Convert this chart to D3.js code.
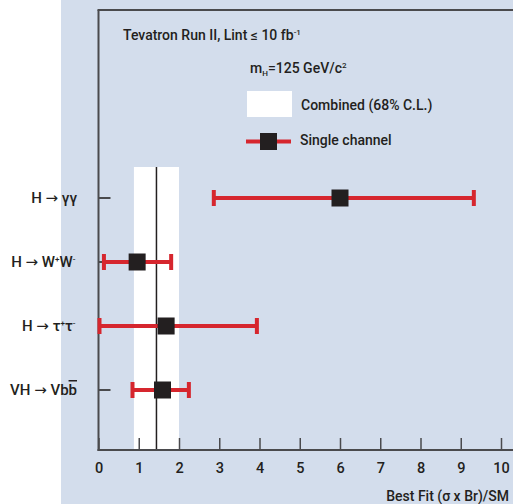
<!DOCTYPE html>
<html><head><meta charset="utf-8">
<script src="https://cdn.jsdelivr.net/npm/d3@7"></script>
<style>
html,body{margin:0;padding:0;background:#fff;}
svg{display:block;}
text{font-family:Roboto,"Liberation Sans",sans-serif;fill:#231f20;font-weight:500;}
.arr{font-family:"DejaVu Sans",sans-serif;font-weight:normal;}
</style></head>
<body>
<svg id="c" width="513" height="504"></svg>
<script>
const channels = ["H → γγ", "H → W⁺W⁻", "H → τ⁺τ⁻", "VH → Vbb̄"];
const bestFit = [6.0, 0.96, 1.68, 1.59];
const errLow = [2.84, 0.11, 0.0, 0.82];
const errHigh = [9.35, 1.83, 3.96, 2.27];
const combinedCentral = 1.44;
const combinedLow = 0.88;
const combinedHigh = 2.0;
const xTicks = [0,1,2,3,4,5,6,7,8,9,10];

const svg = d3.select("#c");
const W = 513, H = 504;
const blue = "#d3ddec", axisCol = "#4a4a4d", red = "#d6262e", mark = "#231f20";

svg.append("rect").attr("x",61).attr("y",0).attr("width",W-61).attr("height",H).attr("fill",blue);

const x = d3.scaleLinear().domain([0,10]).range([98.5,501]);
const y = d3.scalePoint().domain(d3.range(channels.length)).range([198,390]);
const yTop = 10, yBot = 450;

// combined band
svg.append("rect").attr("x",x(combinedLow)).attr("y",167).attr("width",x(combinedHigh)-x(combinedLow)).attr("height",yBot-167).attr("fill","#fff");
svg.append("line").attr("x1",x(combinedCentral)).attr("x2",x(combinedCentral)).attr("y1",167).attr("y2",yBot).attr("stroke",mark).attr("stroke-width",1.5);

// bottom axis with inner ticks
const gx = svg.append("g").attr("transform",`translate(0,${yBot})`)
  .call(d3.axisBottom(x).tickValues(xTicks).tickSizeInner(-12).tickSizeOuter(0).tickPadding(13).tickFormat(d3.format("d")));
gx.select(".domain").remove();
gx.selectAll(".tick line").attr("stroke",axisCol).attr("stroke-width",1.5);
gx.selectAll(".tick text").attr("font-size",14.5).attr("fill","#231f20").attr("font-family","Roboto, sans-serif").attr("font-weight",500);
svg.append("line").attr("x1",x(0)-1).attr("x2",W).attr("y1",yBot).attr("y2",yBot).attr("stroke",axisCol).attr("stroke-width",2);

// frame left & top
svg.append("line").attr("x1",x(0)).attr("x2",x(0)).attr("y1",yTop).attr("y2",yBot+1).attr("stroke",axisCol).attr("stroke-width",2);
svg.append("line").attr("x1",x(0)-1).attr("x2",W).attr("y1",yTop).attr("y2",yTop).attr("stroke",axisCol).attr("stroke-width",2);

// y ticks
svg.append("g").selectAll("line").data(channels).join("line")
  .attr("x1",x(0)).attr("x2",x(0)+12).attr("y1",(d,i)=>y(i)).attr("y2",(d,i)=>y(i))
  .attr("stroke",axisCol).attr("stroke-width",2);

// channel labels
const lab = svg.append("g").selectAll("text").data(channels).join("text")
  .attr("x",77).attr("y",(d,i)=>y(i)+5).attr("text-anchor","end").attr("font-size",15);
lab.each(function(d,i){
  const t = d3.select(this);
  const pre = i===3 ? "VH " : "H ";
  t.append("tspan").text(pre);
  t.append("tspan").attr("class","arr").text("→");
  if(i===0){ t.append("tspan").text(" γγ"); }
  if(i===1){ t.append("tspan").text(" W"); t.append("tspan").attr("font-size",8).attr("dy",-5).text("+");
    t.append("tspan").attr("dy",5).text("W"); t.append("tspan").attr("font-size",8).attr("dy",-5).text("-"); t.append("tspan").attr("dy",5).text("\u200a"); }
  if(i===2){ t.append("tspan").text(" τ"); t.append("tspan").attr("font-size",8).attr("dy",-5).text("+");
    t.append("tspan").attr("dy",5).text("τ"); t.append("tspan").attr("font-size",8).attr("dy",-5).text("-"); t.append("tspan").attr("dy",5).text("\u200a"); }
  if(i===3){ t.append("tspan").text(" Vb"); t.append("tspan").attr("text-decoration","overline").text("b"); }
});

// error bars
const eb = svg.append("g");
eb.selectAll("line.bar").data(channels).join("line").attr("class","bar")
  .attr("x1",(d,i)=>x(errLow[i])).attr("x2",(d,i)=>x(errHigh[i])).attr("y1",(d,i)=>y(i)).attr("y2",(d,i)=>y(i))
  .attr("stroke",red).attr("stroke-width",4);
eb.selectAll("line.capl").data(channels).join("line").attr("class","capl")
  .attr("x1",(d,i)=>x(errLow[i])+1).attr("x2",(d,i)=>x(errLow[i])+1).attr("y1",(d,i)=>y(i)-8).attr("y2",(d,i)=>y(i)+8)
  .attr("stroke",red).attr("stroke-width",4);
eb.selectAll("line.caph").data(channels).join("line").attr("class","caph")
  .attr("x1",(d,i)=>x(errHigh[i])-1).attr("x2",(d,i)=>x(errHigh[i])-1).attr("y1",(d,i)=>y(i)-8).attr("y2",(d,i)=>y(i)+8)
  .attr("stroke",red).attr("stroke-width",4);
eb.selectAll("rect").data(channels).join("rect")
  .attr("x",(d,i)=>x(bestFit[i])-8.5).attr("y",(d,i)=>y(i)-8.5).attr("width",17).attr("height",17).attr("fill",mark);

// legend texts
const t1 = svg.append("text").attr("x",123).attr("y",40).attr("font-size",14);
t1.append("tspan").text("Tevatron Run II, Lint ≤ 10 fb");
t1.append("tspan").attr("font-size",8).attr("dy",-5).text("-1");

const t2 = svg.append("text").attr("x",250).attr("y",73).attr("font-size",14);
t2.append("tspan").text("m");
t2.append("tspan").attr("font-size",8).attr("dy",3).text("H");
t2.append("tspan").attr("dy",-3).text("=125 GeV/c");
t2.append("tspan").attr("font-size",8).attr("dy",-5).text("2");

svg.append("rect").attr("x",247).attr("y",91).attr("width",45).attr("height",26).attr("fill","#fff");
svg.append("text").attr("x",301).attr("y",110).attr("font-size",14).text("Combined (68% C.L.)");

svg.append("line").attr("x1",246).attr("x2",291).attr("y1",141.5).attr("y2",141.5).attr("stroke",red).attr("stroke-width",4);
svg.append("rect").attr("x",260).attr("y",133).attr("width",17).attr("height",17).attr("fill",mark);
svg.append("text").attr("x",300).attr("y",145).attr("font-size",14).text("Single channel");

svg.append("text").attr("x",509).attr("y",501).attr("text-anchor","end").attr("font-size",14).text("Best Fit (σ x Br)/SM");
</script>
</body></html>
